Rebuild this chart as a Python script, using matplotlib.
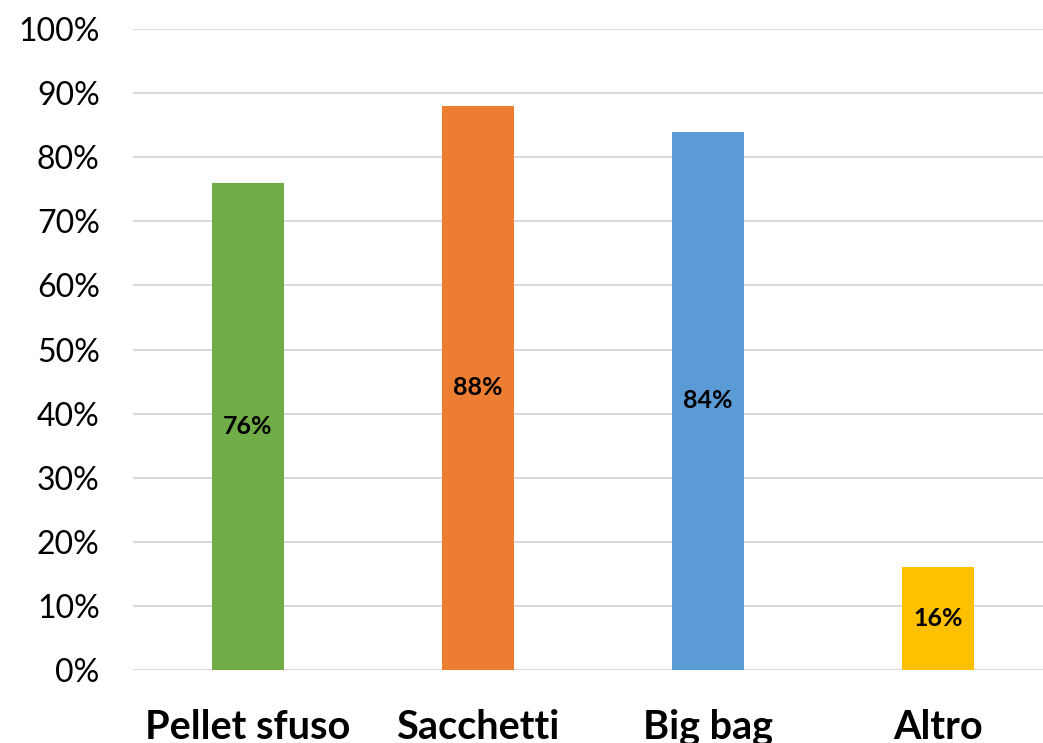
import matplotlib.pyplot as plt
from matplotlib.ticker import PercentFormatter

plt.rcParams['font.family'] = ['Lato', 'DejaVu Sans']

categories = ["Pellet sfuso", "Sacchetti", "Big bag", "Altro"]
values = [76, 88, 84, 16]
colors = ["#70AD47", "#ED7D31", "#5B9BD5", "#FFC000"]
yticks = list(range(0, 101, 10))

fig = plt.figure(figsize=(10.43, 7.43), dpi=100)
# plot area runs a little past the right edge of the canvas
ax = fig.add_axes([133 / 1043, (743 - 670) / 743, 920 / 1043, 641 / 743])

x = range(len(categories))
bars = ax.bar(x, values, width=0.31, color=colors, zorder=3)

for rect, v in zip(bars, values):
    ax.text(rect.get_x() + rect.get_width() / 2, v / 2, f"{v}%",
            ha="center", va="center", fontsize=18, fontweight="bold", zorder=4)

ax.set_xlim(-0.5, len(categories) - 0.5)
ax.set_ylim(0, 100)
ax.set_yticks(yticks)
ax.yaxis.set_major_formatter(PercentFormatter(decimals=0))
ax.grid(axis="y", color="#D9D9D9", linewidth=1.5, zorder=0)

ax.set_xticks(list(x))
ax.set_xticklabels(categories, fontsize=28.5, fontweight="bold")
ax.tick_params(axis="x", length=0, pad=28)
ax.tick_params(axis="y", length=0, labelsize=23, pad=24)

for side in ["top", "right", "left", "bottom"]:
    ax.spines[side].set_visible(False)

fig.savefig("out.png", dpi=100)
